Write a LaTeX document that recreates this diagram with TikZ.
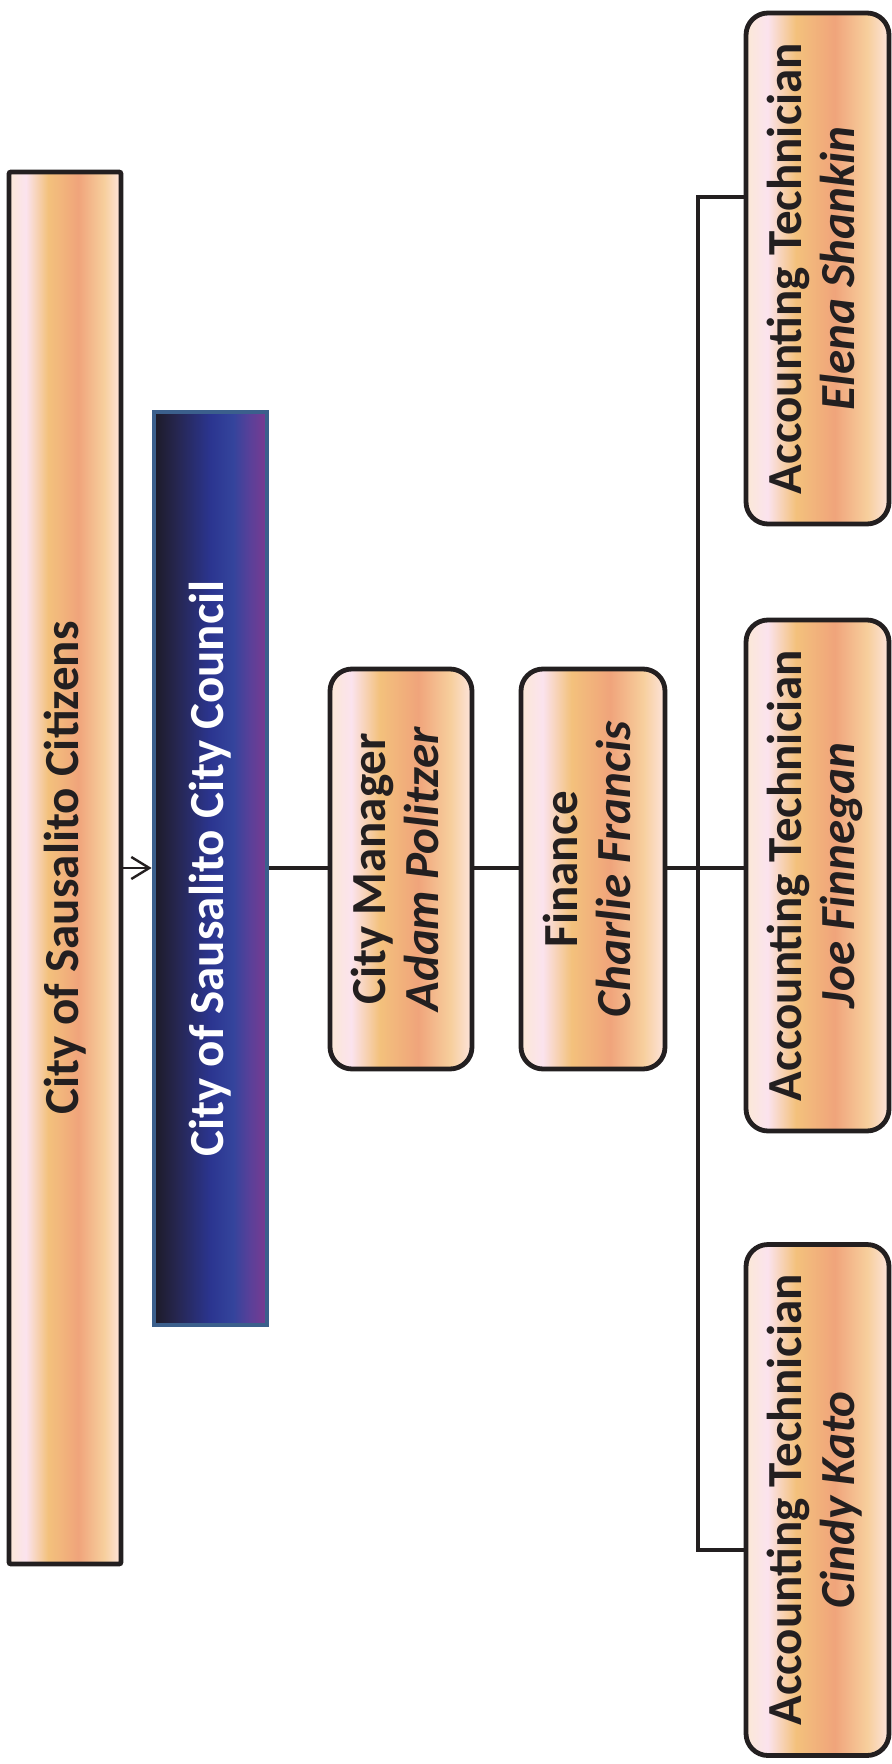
\documentclass[tikz,border=0pt]{standalone}
\usepackage{fontspec}
\setmainfont{Carlito}
\usepackage{graphicx}
\usetikzlibrary{arrows.meta}

\definecolor{ink}{HTML}{231F20}
\definecolor{pkA}{HTML}{FBE8D6}
\definecolor{pkB}{HTML}{FBE3EE}
\definecolor{pkC}{HTML}{F3C17C}
\definecolor{pkD}{HTML}{F0A47B}
\definecolor{pkE}{HTML}{F7CF9D}
\definecolor{pkF}{HTML}{FDE4DD}
\definecolor{ncA}{HTML}{1D1B27}
\definecolor{ncB}{HTML}{262650}
\definecolor{ncC}{HTML}{2B3590}
\definecolor{ncD}{HTML}{34449C}
\definecolor{ncE}{HTML}{5A4099}
\definecolor{ncF}{HTML}{7A3A90}
\definecolor{councilrim}{HTML}{3B5F8C}

\pgfdeclarehorizontalshading{peach}{100bp}{color(0bp)=(pkA); color(25bp)=(pkA);
  color(32.5bp)=(pkB); color(42.5bp)=(pkC); color(56bp)=(pkD);
  color(67.5bp)=(pkE); color(75bp)=(pkF); color(100bp)=(pkF)}
\pgfdeclarehorizontalshading{night}{100bp}{color(0bp)=(ncA); color(25bp)=(ncA);
  color(35bp)=(ncB); color(50bp)=(ncC); color(60bp)=(ncD);
  color(67.5bp)=(ncE); color(75bp)=(ncF); color(100bp)=(ncF)}

\newcommand{\uptext}[1]{\rotatebox{90}{#1}}
\newcommand{\uppost}[2]{\rotatebox{90}{\begin{tabular}{@{}c@{}}#1\\\textit{#2}\end{tabular}}}

\tikzset{
  orgbox/.style={draw=ink, line width=2.4pt, shading=peach, rounded corners=11pt,
    inner sep=0pt, text=ink, font=\fontsize{24.5}{26.5}\selectfont\bfseries},
  techbox/.style={orgbox, minimum width=71.5pt, minimum height=255.5pt},
  orgline/.style={draw=ink, line width=2.4pt},
  busline/.style={draw=ink, line width=2pt}
}

\begin{document}
\begin{tikzpicture}[x=0.5pt,y=-0.5pt]
  \useasboundingbox (0,0) rectangle (891,1764);

  % top level
  \node[orgbox, rounded corners=1pt, minimum width=56pt, minimum height=696pt]
    (citizens) at (65,868) {\uptext{City of Sausalito Citizens}};
  \node[draw=councilrim, line width=2.4pt, shading=night, inner sep=0pt,
    minimum width=56.5pt, minimum height=456.5pt, text=white,
    font=\fontsize{24.5}{26.5}\selectfont\bfseries]
    (council) at (210.5,868.5) {\uptext{City of Sausalito City Council}};

  % management
  \node[orgbox, minimum width=71pt, minimum height=200pt]
    (manager) at (401,869) {\uppost{City Manager}{Adam Politzer}};
  \node[orgbox, minimum width=72pt, minimum height=200pt]
    (finance) at (593,869) {\uppost{Finance}{Charlie Francis}};

  % technicians
  \node[techbox] (elena) at (817.5,268.5) {\uppost{Accounting Technician}{Elena Shankin}};
  \node[techbox] (joe) at (817.5,875.5) {\uppost{Accounting Technician}{Joe Finnegan}};
  \node[techbox] (cindy) at (817.5,1500) {\uppost{Accounting Technician}{Cindy Kato}};

  % connectors
  \draw[ink, line width=1.2pt, -{Straight Barb[length=9pt,width=11pt]}]
    (citizens.east |- 0,868) -- (council.west |- 0,868);
  \draw[orgline] (council.east |- 0,868) -- (manager.west |- 0,868);
  \draw[orgline] (manager.east |- 0,868) -- (finance.west |- 0,868);
  \draw[orgline] (finance.east |- 0,868) -- (joe.west |- 0,868);

  \coordinate (bustop) at (697.5,197);
  \coordinate (busbot) at (697.5,1550);
  \draw[busline] (elena.west |- bustop) -- (bustop) -- (busbot) -- (cindy.west |- busbot);
\end{tikzpicture}
\end{document}
